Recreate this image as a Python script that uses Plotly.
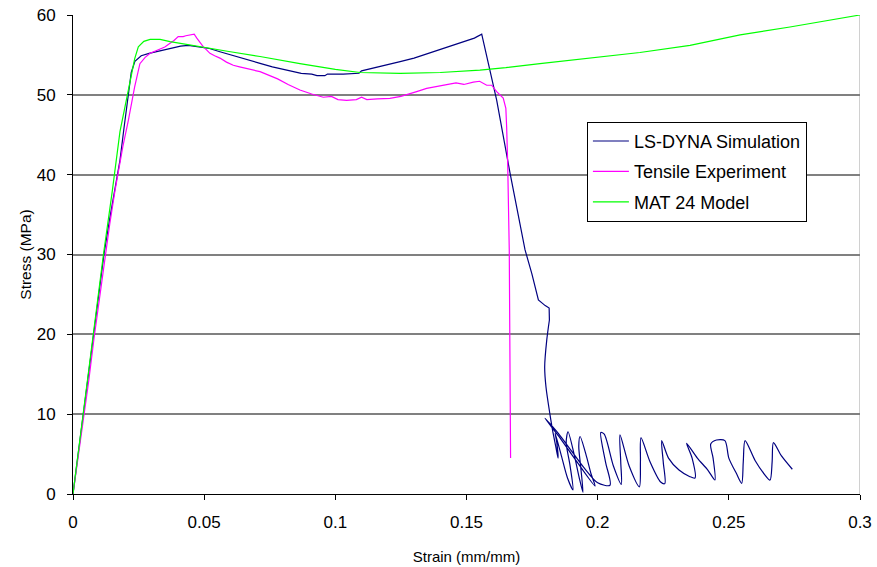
import plotly.graph_objects as go

# ---------------- data ----------------
dyna_strain = [0, 0.002, 0.004, 0.006, 0.008, 0.010, 0.0118, 0.014, 0.016, 0.0179, 0.0195, 0.0210, 0.0222, 0.0236,
               0.026, 0.029, 0.0319, 0.035, 0.038, 0.041, 0.044, 0.048, 0.052, 0.056, 0.060, 0.065, 0.0713, 0.076,
               0.080, 0.084, 0.087, 0.091, 0.093, 0.096, 0.097, 0.103, 0.109, 0.110, 0.114, 0.118, 0.1247, 0.130,
               0.1373, 0.142, 0.146, 0.150, 0.153, 0.1558, 0.159, 0.1615, 0.1666, 0.1723, 0.1749, 0.1774, 0.1800,
               0.1815, 0.1816, 0.1806, 0.1798, 0.1803, 0.1818,
               0.1828, 0.1840, 0.1849, 0.1844, 0.1838, 0.1860, 0.1885, 0.1906, 0.1895, 0.1880, 0.1887, 0.1910,
               0.1930, 0.1944, 0.1935, 0.1928, 0.1933, 0.1955, 0.1975, 0.1990, 0.1900, 0.1850, 0.1799,
               0.1850, 0.1900, 0.1950, 0.2000, 0.2047, 0.2030, 0.2012, 0.2025, 0.2060, 0.2090, 0.2088, 0.2085,
               0.2120, 0.2159, 0.2163, 0.2165, 0.2200, 0.2240, 0.2256, 0.2250, 0.2244, 0.2270, 0.2310, 0.2350,
               0.2371, 0.2360, 0.2339, 0.2380, 0.2420, 0.2447, 0.2440, 0.2431, 0.2453, 0.2485, 0.2500, 0.2530,
               0.2549, 0.2555, 0.2562, 0.2600, 0.2635, 0.2657, 0.2665, 0.2670, 0.2700, 0.2742]
dyna_stress = [0, 5, 10, 15, 20, 25.5, 30, 34.5, 38.5, 41.8, 46, 50, 52.8, 54.2,
               54.9, 55.2, 55.4, 55.6, 55.9, 56.1, 56.2, 56.0, 55.8, 55.4, 55.0, 54.5, 53.95, 53.5,
               53.2, 52.9, 52.7, 52.6, 52.4, 52.4, 52.6, 52.6, 52.7, 53.0, 53.3, 53.6, 54.15, 54.6,
               55.4, 55.9, 56.3, 56.8, 57.1, 57.6, 53.1, 49.35, 40.2, 30.6, 27.6, 24.3, 23.6,
               23.3, 21.8, 19.3, 15.9, 13.4, 10.0,
               8.0, 6.0, 4.5, 6.5, 7.6, 5.0, 2.0, 0.5, 3.5, 6.5, 7.8, 5.0,
               2.0, 0.2, 3.5, 6.0, 7.2, 5.0, 2.5, 1.0, 5.0, 7.3, 9.5,
               7.6, 5.4, 3.2, 1.4, 1.1, 4.0, 7.7, 7.5, 3.5, 1.2, 4.0, 7.4,
               3.5, 0.9, 4.0, 7.05, 4.0, 1.5, 1.3, 4.0, 6.7, 4.5, 3.0, 2.2,
               2.0, 4.5, 6.35, 4.5, 3.0, 1.75, 4.5, 6.26, 6.76, 6.68, 4.5, 2.5,
               1.34, 4.0, 6.68, 4.2, 2.5, 1.75, 4.0, 6.43, 4.8, 3.1]

exp_strain = [0, 0.002, 0.004, 0.006, 0.008, 0.010, 0.012, 0.014, 0.016, 0.019, 0.0211, 0.0235, 0.0255, 0.0275,
              0.0294, 0.0315, 0.0332, 0.035, 0.037, 0.0385, 0.0401, 0.042, 0.043, 0.0445, 0.0452, 0.0462, 0.0472,
              0.0485, 0.0497, 0.0510, 0.0522, 0.054, 0.056, 0.0585, 0.0611, 0.0635, 0.0662, 0.069, 0.0713, 0.075,
              0.078, 0.082, 0.0865, 0.091, 0.0954, 0.0985, 0.1010, 0.1043, 0.108, 0.110, 0.112, 0.116, 0.1208,
              0.125, 0.1285, 0.131, 0.1348, 0.138, 0.1425, 0.146, 0.149, 0.1526, 0.1550, 0.1577, 0.1596, 0.1615,
              0.1640, 0.1650, 0.1653, 0.1657, 0.1663, 0.1665, 0.1668]
exp_stress = [0, 4.6, 9.5, 14.2, 19.5, 24.5, 29.5, 33.8, 38, 43.5, 46.8, 51, 53.9, 54.7,
              55.2, 55.5, 55.8, 56.0, 56.45, 56.8, 57.3, 57.3, 57.4, 57.5, 57.6, 57.6, 57.1,
              56.5, 56.0, 55.6, 55.2, 54.9, 54.6, 54.1, 53.7, 53.5, 53.3, 53.1, 52.9, 52.4,
              52.0, 51.3, 50.6, 50.1, 49.7, 49.8, 49.4, 49.3, 49.4, 49.7, 49.4, 49.5, 49.55,
              49.8, 50.2, 50.4, 50.8, 51.0, 51.2, 51.5, 51.3, 51.6, 51.7, 51.2, 51.2, 50.4,
              49.6, 48.3, 46.0, 41.4, 30.6, 15.0, 4.5]

mat_strain = [0, 0.004, 0.008, 0.0116, 0.0150, 0.0179, 0.0211, 0.0235, 0.0249, 0.027, 0.0294, 0.0332, 0.037,
              0.045, 0.0522, 0.060, 0.0713, 0.0865, 0.1000, 0.1094, 0.1247, 0.140, 0.1551, 0.1650, 0.178, 0.1971,
              0.2161, 0.2352, 0.2543, 0.2733, 0.2924, 0.3]
mat_stress = [0, 10.5, 20.5, 30, 38, 45.4, 50.6, 54.5, 56.0, 56.7, 56.95, 56.95, 56.66,
              56.2, 55.8, 55.4, 54.8, 53.9, 53.2, 52.8, 52.7, 52.8, 53.1, 53.4, 53.9, 54.6,
              55.3, 56.2, 57.5, 58.5, 59.6, 60.0]

x_tickvals = [0, 0.05, 0.1, 0.15, 0.2, 0.25, 0.3]
x_ticktext = ["0", "0.05", "0.1", "0.15", "0.2", "0.25", "0.3"]
y_tickvals = [0, 10, 20, 30, 40, 50, 60]

# the post-failure part of the simulation curve is drawn smoothed
split = 56  # index where the curved (post-failure) tail starts

# ---------------- figure ----------------
navy, magenta, green = "#000080", "#FF00FF", "#00FF00"
fig = go.Figure()
fig.add_trace(go.Scatter(x=dyna_strain[:split + 1], y=dyna_stress[:split + 1], mode="lines",
                         name="LS-DYNA Simulation", line=dict(color=navy, width=1.2), legendgroup="a"))
fig.add_trace(go.Scatter(x=dyna_strain[split:], y=dyna_stress[split:], mode="lines", showlegend=False,
                         line=dict(color=navy, width=1.2, shape="spline", smoothing=0.8), legendgroup="a",
                         hoverinfo="skip"))
fig.add_trace(go.Scatter(x=exp_strain, y=exp_stress, mode="lines", name="Tensile Experiment",
                         line=dict(color=magenta, width=1.2), legendgroup="b"))
fig.add_trace(go.Scatter(x=mat_strain, y=mat_stress, mode="lines", name="MAT 24 Model",
                         line=dict(color=green, width=1.2), legendgroup="c"))

fig.add_shape(type="line", xref="x", yref="paper", x0=0.3, x1=0.3, y0=0, y1=1,
              line=dict(color="#A0A0A0", width=1), layer="below")

font_family = "Liberation Sans, Arial, sans-serif"
fig.update_layout(
    width=877, height=567,
    margin=dict(l=73, r=17, t=15, b=73),
    paper_bgcolor="white", plot_bgcolor="white",
    font=dict(family=font_family, size=17, color="black"),
    showlegend=True,
    legend=dict(x=0.653, y=0.777, xanchor="left", yanchor="top",
                bgcolor="white", bordercolor="black", borderwidth=1,
                font=dict(size=18), tracegroupgap=4, itemwidth=36),
    xaxis=dict(range=[0, 0.3], tickvals=x_tickvals, ticktext=x_ticktext, automargin=False,
               showgrid=False, zeroline=False, showline=True, linecolor="black", linewidth=1,
               ticks="outside", ticklen=5, tickcolor="black", ticklabelstandoff=8,
               tickfont=dict(size=17),
               title=dict(text="Strain (mm/mm)", font=dict(size=15), standoff=20)),
    yaxis=dict(range=[0, 60], tickvals=y_tickvals, automargin=False,
               showgrid=True, gridcolor="#808080", gridwidth=2, zeroline=False,
               showline=True, linecolor="black", linewidth=1,
               ticks="outside", ticklen=5, tickcolor="black", ticklabelstandoff=8,
               tickfont=dict(size=17),
               title=dict(text="Stress (MPa)", font=dict(size=15.5), standoff=1)),
)

fig.write_html("out.html", config={"displayModeBar": False},
               post_script="document.body.style.margin='0px';")
